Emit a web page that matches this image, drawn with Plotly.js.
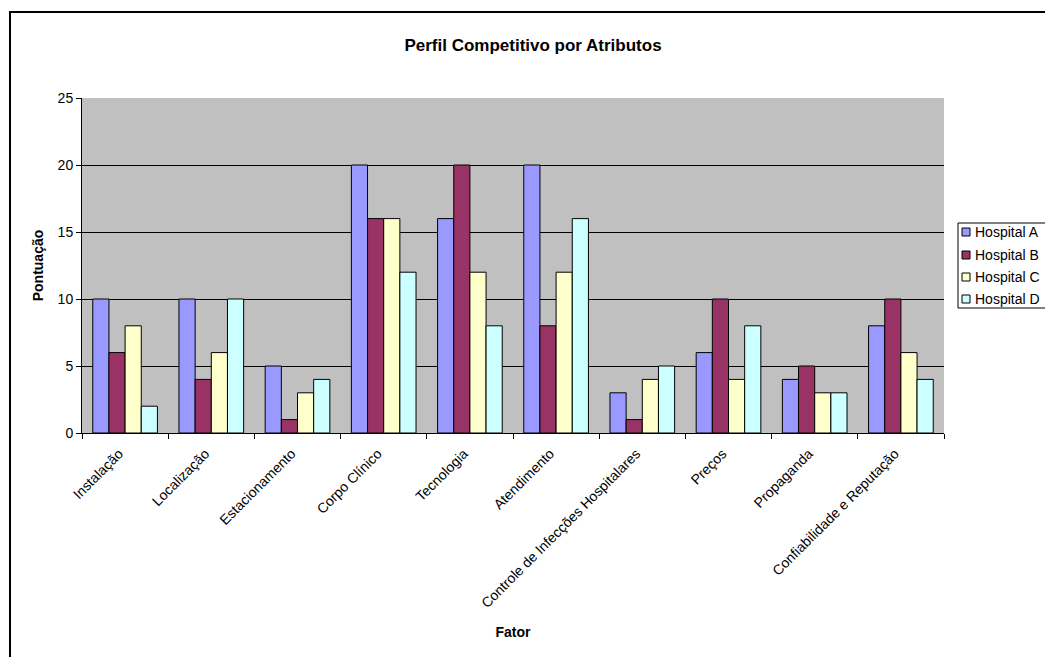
<!DOCTYPE html>
<html>
<head>
<meta charset="utf-8">
<script src="https://cdn.plot.ly/plotly-3.0.1.min.js"></script>
<style>
html,body{margin:0;padding:0;background:#fff;overflow:hidden;}
#chart{width:1045px;height:657px;}
#frame{position:absolute;left:9px;top:11px;width:1100px;height:700px;border:2px solid #000;pointer-events:none;}
</style>
</head>
<body>
<div id="chart"></div>
<div id="frame"></div>
<script>
const categories = ["Instalação","Localização","Estacionamento","Corpo Clínico","Tecnologia","Atendimento","Controle de Infecções Hospitalares","Preços","Propaganda","Confiabilidade e Reputação"];
const seriesNames = ["Hospital A","Hospital B","Hospital C","Hospital D"];
const hospitalA = [10,10,5,20,16,20,3,6,4,8];
const hospitalB = [6,4,1,16,20,8,1,10,5,10];
const hospitalC = [8,6,3,16,12,12,4,4,3,6];
const hospitalD = [2,10,4,12,8,16,5,8,3,4];
const colors = ["#9999FF","#993366","#FFFFCC","#CCFFFF"];
const yTicks = [0,5,10,15,20,25];

const W = 1045, H = 657;
const M = {l:82, r:101, t:98, b:224};
const plotW = W - M.l - M.r, plotH = H - M.t - M.b;
const px2x = px => (px - M.l) / plotW;
const py2y = py => (H - M.b - py) / plotH;

const allSeries = [hospitalA,hospitalB,hospitalC,hospitalD];
const traces = allSeries.map((vals,i)=>({
  type:"bar", name:seriesNames[i], x:categories, y:vals,
  marker:{color:colors[i], line:{color:"#000", width:1}},
  showlegend:false
}));

// custom legend (Excel style: small square + text)
const shapes = [{
  type:"rect", xref:"paper", yref:"paper",
  x0:px2x(958), x1:px2x(1060), y0:py2y(308), y1:py2y(223),
  fillcolor:"#fff", line:{color:"#000", width:1}, layer:"above"
}];
const annotations = [];
const legendY = [232, 255, 277, 299];
seriesNames.forEach((n,i)=>{
  const cy = legendY[i];
  shapes.push({
    type:"rect", xref:"paper", yref:"paper",
    x0:px2x(962), x1:px2x(970), y0:py2y(cy+4), y1:py2y(cy-4),
    fillcolor:colors[i], line:{color:"#000", width:1}, layer:"above"
  });
  annotations.push({
    xref:"paper", yref:"paper", x:px2x(973), y:py2y(cy),
    xanchor:"left", yanchor:"middle", showarrow:false,
    text:n, font:{size:14, color:"#000"}
  });
});

const layout = {
  width:W, height:H,
  margin:M,
  paper_bgcolor:"#fff", plot_bgcolor:"#C0C0C0",
  font:{family:"Liberation Sans, Arial, sans-serif", size:14, color:"#000"},
  title:{text:"<b>Perfil Competitivo por Atributos</b>", font:{size:17}, x:533/W, xref:"container", xanchor:"center", y:1-45/H, yanchor:"middle"},
  barmode:"group", bargap:0.25, bargroupgap:0,
  xaxis:{
    title:{text:"<b>Fator</b>", font:{size:14}, standoff:17},
    tickangle:-45, ticks:"outside", ticklen:5, tickcolor:"#000",
    tickfont:{size:14}, ticklabelstandoff:6, ticklabelshift:-6,
    showline:true, linecolor:"#000", linewidth:1,
    showgrid:false, tickson:"boundaries", automargin:false
  },
  yaxis:{
    title:{text:"<b>Pontuação</b>", font:{size:14}, standoff:10},
    range:[0,25], tickvals:yTicks, ticktext:yTicks.map(String),
    ticks:"outside", ticklen:5, tickcolor:"#000", tickfont:{size:14},
    showline:true, linecolor:"#000", linewidth:1,
    showgrid:true, gridcolor:"#000", gridwidth:1, zeroline:false, automargin:false
  },
  shapes:shapes,
  annotations:annotations,
  showlegend:false
};

Plotly.newPlot("chart", traces, layout, {displayModeBar:false, staticPlot:true});
</script>
</body>
</html>
